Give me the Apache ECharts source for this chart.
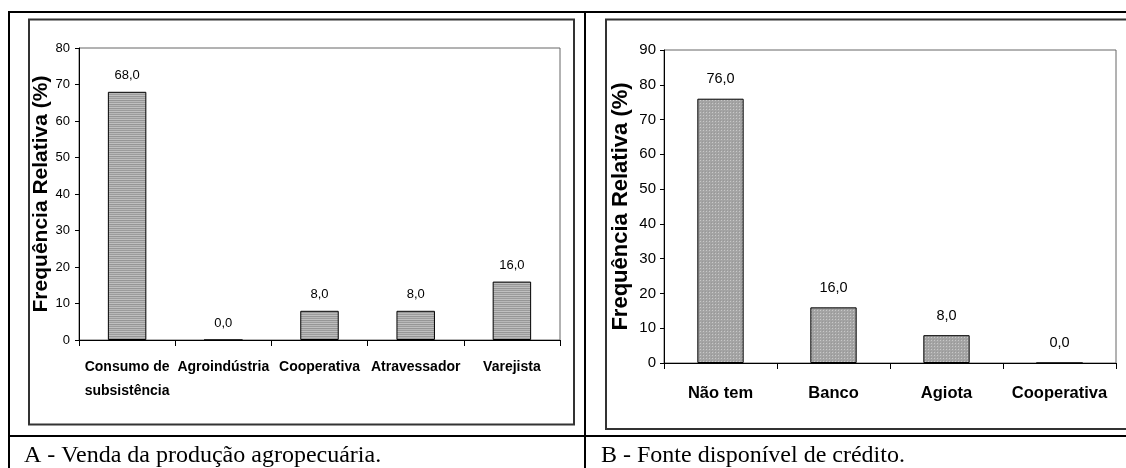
<!DOCTYPE html>
<html>
<head>
<meta charset="utf-8">
<script src="https://cdn.jsdelivr.net/npm/echarts@6/dist/echarts.min.js"></script>
<style>
html,body{margin:0;padding:0;background:#fff;}
#chart{width:1126px;height:468px;}
</style>
</head>
<body>
<div id="chart"></div>
<script>
// ---- data ----
const catsA = ['Consumo de\nsubsistência', 'Agroindústria', 'Cooperativa', 'Atravessador', 'Varejista'];
const valsA = [68.0, 0.0, 8.0, 8.0, 16.0];
const catsB = ['Não tem', 'Banco', 'Agiota', 'Cooperativa'];
const valsB = [76.0, 16.0, 8.0, 0.0];
const yTitle = 'Frequência Relativa (%)';
const captionA = 'A - Venda da produção agropecuária.';
const captionB = 'B - Fonte disponível de crédito.';
const yMaxA = 80, yMaxB = 90, yStep = 10;

// ---- fill patterns ----
function stripePattern() {
  const c = document.createElement('canvas'); c.width = 4; c.height = 4;
  const g = c.getContext('2d');
  const rows = ['#969696', '#b8b8b8', '#9c9c9c', '#c0c0c0'];
  rows.forEach((col, i) => { g.fillStyle = col; g.fillRect(0, i, 4, 1); });
  return c;
}
function dotPattern() {
  const c = document.createElement('canvas'); c.width = 3; c.height = 3;
  const g = c.getContext('2d');
  g.fillStyle = '#a4a4a4'; g.fillRect(0, 0, 3, 3);
  g.fillStyle = '#c8c8c8'; g.fillRect(1, 1, 1, 1);
  g.fillStyle = '#989898'; g.fillRect(0, 0, 1, 1);
  return c;
}

const sans = "'Liberation Sans', Arial, sans-serif";
const serif = "'Liberation Serif', 'Times New Roman', serif";
const fmt = p => p.value.toFixed(1).replace('.', ',');

function yAxisCfg(gridIndex, max, gap, titleSize, tickSize, margin) {
  return {
    type: 'value', gridIndex, min: 0, max, interval: yStep,
    name: yTitle, nameLocation: 'middle', nameGap: gap, nameRotate: 90,
    nameTextStyle: { fontFamily: sans, fontWeight: 'bold', fontSize: titleSize, color: '#000' },
    axisLine: { show: true, lineStyle: { color: '#000', width: 1 } },
    axisTick: { show: true, length: 4, lineStyle: { color: '#000' } },
    axisLabel: { fontFamily: sans, fontSize: tickSize, color: '#000', margin },
    splitLine: { show: false }
  };
}
function xAxisCfg(gridIndex, data, margin, size, lh) {
  return {
    type: 'category', gridIndex, data,
    axisLine: { show: true, lineStyle: { color: '#000', width: 1 } },
    axisTick: { show: true, length: 6, inside: false, alignWithLabel: false, lineStyle: { color: '#000' } },
    axisLabel: { fontFamily: sans, fontWeight: 'bold', fontSize: size, color: '#000', margin, lineHeight: lh, interval: 0 }
  };
}

const chart = echarts.init(document.getElementById('chart'), null, { renderer: 'canvas' });
chart.setOption({
  animation: false,
  backgroundColor: '#fff',
  title: [
    { text: captionA, left: 24, top: 444, padding: 0, textStyle: { fontFamily: serif, fontWeight: 'normal', fontSize: 24, color: '#000' } },
    { text: captionB, left: 601, top: 444, padding: 0, textStyle: { fontFamily: serif, fontWeight: 'normal', fontSize: 24, color: '#000' } }
  ],
  grid: [
    { left: 79, top: 48, right: 566, bottom: 128, show: true, borderColor: '#666', borderWidth: 1, backgroundColor: 'transparent' },
    { left: 664, top: 50, right: 10, bottom: 105, show: true, borderColor: '#666', borderWidth: 1, backgroundColor: 'transparent' }
  ],
  xAxis: [xAxisCfg(0, catsA, 15, 14, 24), xAxisCfg(1, catsB, 20, 16.5, 20)],
  yAxis: [yAxisCfg(0, yMaxA, 25, 21, 13, 9), yAxisCfg(1, yMaxB, 32, 22, 15, 8)],
  series: [
    {
      type: 'bar', xAxisIndex: 0, yAxisIndex: 0, data: valsA, barWidth: '40%',
      itemStyle: { color: { image: stripePattern(), repeat: 'repeat' }, borderColor: '#000', borderWidth: 1 },
      label: { show: true, position: 'top', distance: 10, formatter: fmt, fontFamily: sans, fontSize: 13, color: '#000' }
    },
    {
      type: 'bar', xAxisIndex: 1, yAxisIndex: 1, data: valsB, barWidth: '41%',
      itemStyle: { color: { image: dotPattern(), repeat: 'repeat' }, borderColor: '#000', borderWidth: 1 },
      label: { show: true, position: 'top', distance: 12, formatter: fmt, fontFamily: sans, fontSize: 14.5, color: '#000' }
    }
  ],
  graphic: [
    { type: 'rect', silent: true, z: 10, shape: { x: 29, y: 19.5, width: 545, height: 405 }, style: { fill: null, stroke: '#333', lineWidth: 2 } },
    { type: 'rect', silent: true, z: 10, shape: { x: 606, y: 19.5, width: 540, height: 409.5 }, style: { fill: null, stroke: '#333', lineWidth: 2 } },
    { type: 'rect', silent: true, z: 10, shape: { x: 8, y: 11, width: 1118, height: 2 }, style: { fill: '#000' } },
    { type: 'rect', silent: true, z: 10, shape: { x: 8, y: 11, width: 2, height: 457 }, style: { fill: '#000' } },
    { type: 'rect', silent: true, z: 10, shape: { x: 584, y: 11, width: 2, height: 457 }, style: { fill: '#000' } },
    { type: 'rect', silent: true, z: 10, shape: { x: 8, y: 435, width: 1118, height: 2 }, style: { fill: '#000' } }
  ]
});
</script>
</body>
</html>
